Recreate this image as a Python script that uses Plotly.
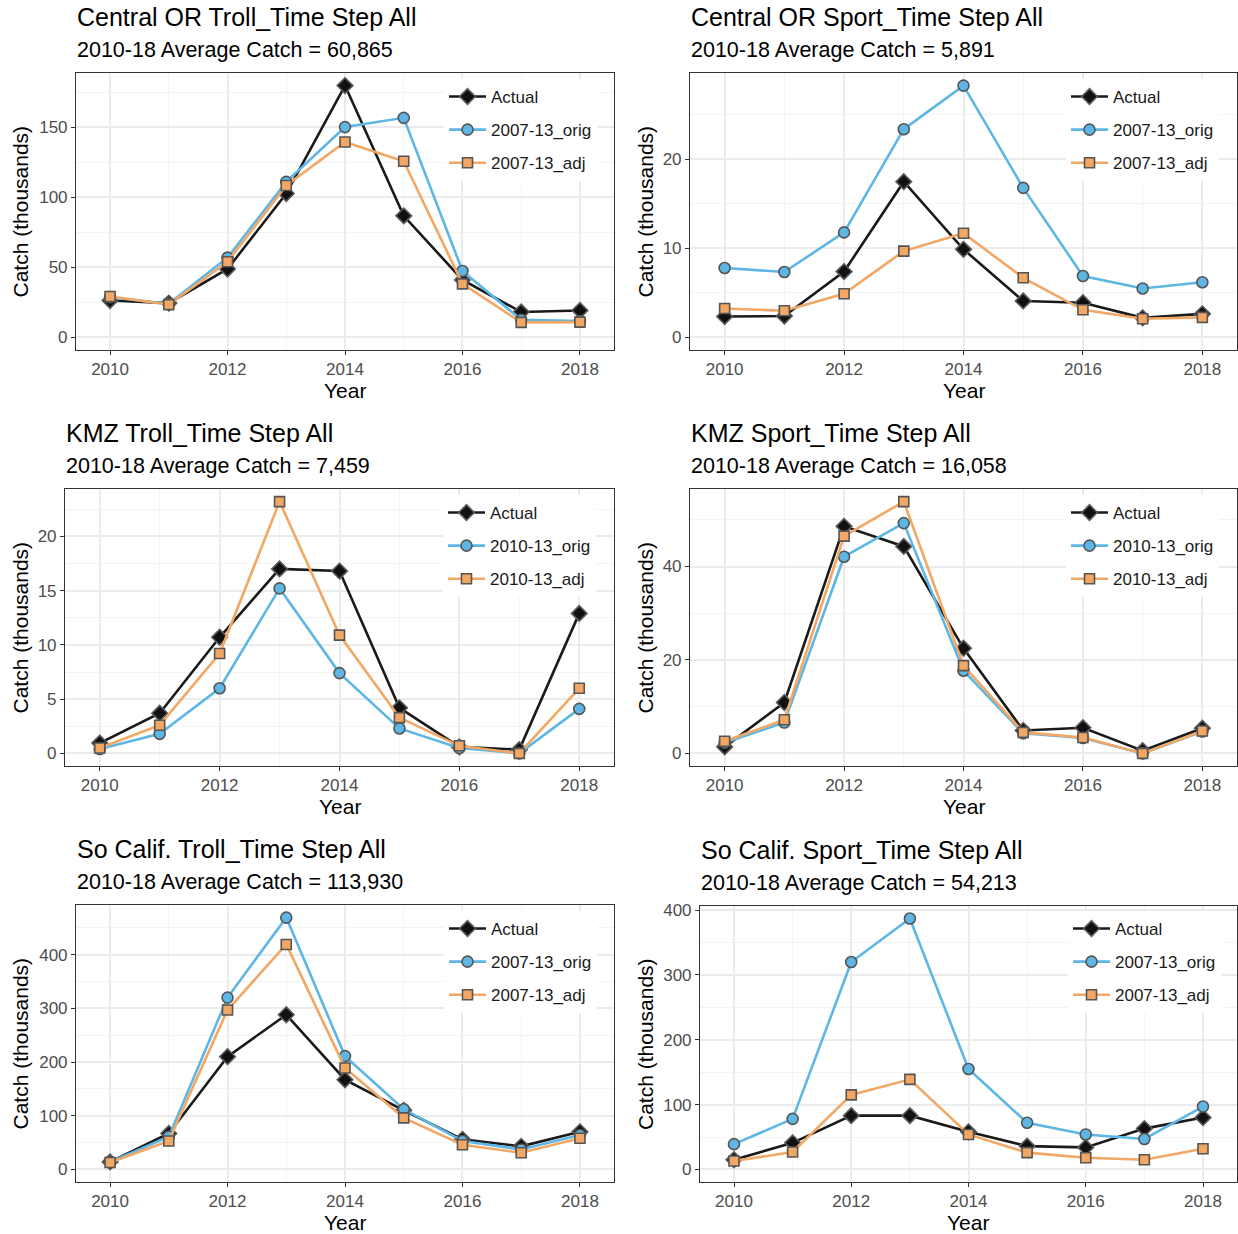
import plotly.graph_objects as go

# ---------------- data ----------------
years = [2010, 2011, 2012, 2013, 2014, 2015, 2016, 2017, 2018]

titles = ["Central OR Troll_Time Step All", "Central OR Sport_Time Step All",
          "KMZ Troll_Time Step All", "KMZ Sport_Time Step All",
          "So Calif. Troll_Time Step All", "So Calif. Sport_Time Step All"]
subtitles = ["2010-18 Average Catch = 60,865", "2010-18 Average Catch = 5,891",
             "2010-18 Average Catch = 7,459", "2010-18 Average Catch = 16,058",
             "2010-18 Average Catch = 113,930", "2010-18 Average Catch = 54,213"]

names_0713 = ["Actual", "2007-13_orig", "2007-13_adj"]
names_1013 = ["Actual", "2010-13_orig", "2010-13_adj"]

cor_troll_actual = [26.3, 24.5, 48.8, 102.6, 179.6, 86.7, 41.0, 18.1, 19.2]
cor_troll_orig = [28.7, 24.0, 56.9, 110.9, 150.0, 156.6, 47.4, 12.6, 11.6]
cor_troll_adj = [29.2, 23.4, 54.0, 108.3, 139.4, 125.6, 38.2, 10.7, 10.9]

cor_sport_actual = [2.35, 2.4, 7.4, 17.5, 9.9, 4.1, 3.9, 2.2, 2.65]
cor_sport_orig = [7.8, 7.35, 11.8, 23.4, 28.3, 16.8, 6.9, 5.5, 6.2]
cor_sport_adj = [3.25, 3.0, 4.9, 9.7, 11.7, 6.7, 3.1, 2.1, 2.25]

kmz_troll_actual = [0.95, 3.7, 10.7, 17.0, 16.8, 4.2, 0.6, 0.35, 12.9]
kmz_troll_orig = [0.4, 1.8, 6.0, 15.2, 7.4, 2.3, 0.5, 0.0, 4.1]
kmz_troll_adj = [0.5, 2.6, 9.2, 23.2, 10.9, 3.3, 0.7, 0.0, 6.0]

kmz_sport_actual = [1.4, 10.9, 48.6, 44.3, 22.5, 4.9, 5.5, 0.6, 5.4]
kmz_sport_orig = [2.3, 6.6, 42.1, 49.3, 17.7, 4.3, 3.3, 0.0, 4.7]
kmz_sport_adj = [2.6, 7.2, 46.5, 53.9, 18.8, 4.5, 3.4, 0.0, 4.8]

sc_troll_actual = [14, 67, 210, 288, 167, 110, 56, 43, 70]
sc_troll_orig = [14, 61, 320, 469, 211, 112, 53, 37, 64]
sc_troll_adj = [13, 53, 297, 419, 189, 96, 46, 31, 58]

sc_sport_actual = [15, 41, 83, 83, 58, 36, 34, 63, 80]
sc_sport_orig = [39, 78, 320, 387, 155, 72, 54, 47, 97]
sc_sport_adj = [13, 27, 115, 139, 54, 26, 18, 15, 32]

panels_data = [
    (names_0713, [cor_troll_actual, cor_troll_orig, cor_troll_adj]),
    (names_0713, [cor_sport_actual, cor_sport_orig, cor_sport_adj]),
    (names_1013, [kmz_troll_actual, kmz_troll_orig, kmz_troll_adj]),
    (names_1013, [kmz_sport_actual, kmz_sport_orig, kmz_sport_adj]),
    (names_0713, [sc_troll_actual, sc_troll_orig, sc_troll_adj]),
    (names_0713, [sc_sport_actual, sc_sport_orig, sc_sport_adj]),
]
y_dticks = [50, 10, 5, 20, 100, 100]

# ---------------- layout / styles ----------------
W, H = 1238, 1234
FONT = "Liberation Sans, Arial, sans-serif"
# plot areas in pixels: (left, right, top, bottom)
boxes = [(76, 614, 73, 350), (690, 1237, 73, 350),
         (65, 614, 489, 766), (690, 1237, 489, 766),
         (76, 614, 905, 1182), (700, 1237, 906, 1182)]
legend_pos = [(444, 79), (1066, 79), (443, 495), (1066, 495), (444, 911), (1068, 911)]

styles = [
    dict(line=dict(color="#1a1a1a", width=2.6),
         marker=dict(symbol="diamond", size=12, color="#111111",
                     line=dict(color="#5a5a5a", width=1.6))),
    dict(line=dict(color="#5DB6E4", width=2.6),
         marker=dict(symbol="circle", size=11, color="#5DB6E4",
                     line=dict(color="#555555", width=1.6))),
    dict(line=dict(color="#F2A765", width=2.6),
         marker=dict(symbol="square", size=10, color="#F2A765",
                     line=dict(color="#555555", width=1.6))),
]

def px_x(p):
    return p / W

def px_y(p):
    return 1 - p / H

fig = go.Figure()
annotations = []
layout_upd = {}

for i, (names, series) in enumerate(panels_data):
    k = "" if i == 0 else str(i + 1)
    xa, ya = "x" + k, "y" + k
    leg = "legend" + k
    for j, (nm, vals) in enumerate(zip(names, series)):
        fig.add_trace(go.Scatter(
            x=years, y=vals, mode="lines+markers", name=nm,
            xaxis=xa, yaxis=ya, legend=leg, legendgroup=f"p{i}_{j}",
            line=styles[j]["line"], marker=styles[j]["marker"],
            hoverinfo="x+y+name"))

    l, r, t, b = boxes[i]
    ymax = max(max(s) for s in series)
    yrange = [-0.05 * ymax, 1.05 * ymax]

    common = dict(showline=True, mirror=True, linecolor="#333333", linewidth=1.1,
                  ticks="outside", ticklen=4, tickcolor="#333333", tickwidth=1.1,
                  tickfont=dict(family=FONT, size=17, color="#4d4d4d"),
                  showgrid=True, gridcolor="#EBEBEB", gridwidth=1.5,
                  zeroline=False, automargin=False)
    layout_upd["xaxis" + k] = dict(
        common, domain=[px_x(l), px_x(r)], anchor=ya,
        range=[2009.42, 2018.58], tick0=2010, dtick=2,
        minor=dict(dtick=1, tick0=2010, showgrid=True, gridcolor="#F3F3F3",
                   gridwidth=1, ticks=""))
    layout_upd["yaxis" + k] = dict(
        common, domain=[px_y(b), px_y(t)], anchor=xa,
        range=yrange, tick0=0, dtick=y_dticks[i],
        minor=dict(dtick=y_dticks[i] / 2, tick0=0, showgrid=True,
                   gridcolor="#F3F3F3", gridwidth=1, ticks=""))

    lx, ly = legend_pos[i]
    layout_upd[leg] = dict(x=px_x(lx), y=px_y(ly), xanchor="left", yanchor="top",
                           xref="paper", yref="paper",
                           bgcolor="white", borderwidth=0, tracegroupgap=8,
                           font=dict(family=FONT, size=17, color="#1a1a1a"),
                           itemwidth=37)

    # titles
    annotations.append(dict(text=titles[i], x=px_x(l - 1), y=px_y(t - 56),
                            xref="paper", yref="paper", xanchor="left", yanchor="middle",
                            showarrow=False,
                            font=dict(family=FONT, size=25, color="#000000")))
    annotations.append(dict(text=subtitles[i], x=px_x(l - 1), y=px_y(t - 23),
                            xref="paper", yref="paper", xanchor="left", yanchor="middle",
                            showarrow=False,
                            font=dict(family=FONT, size=21.5, color="#000000")))
    # axis titles
    annotations.append(dict(text="Year", x=px_x((l + r) / 2), y=px_y(b + 40),
                            xref="paper", yref="paper", xanchor="center", yanchor="middle",
                            showarrow=False,
                            font=dict(family=FONT, size=21, color="#000000")))
    ytitle_x = 20 if l < 400 else 645
    annotations.append(dict(text="Catch (thousands)", x=px_x(ytitle_x), y=px_y((t + b) / 2),
                            xref="paper", yref="paper", xanchor="center", yanchor="middle",
                            textangle=-90, showarrow=False,
                            font=dict(family=FONT, size=21, color="#000000")))

fig.update_layout(
    width=W, height=H, margin=dict(l=0, r=0, t=0, b=0),
    paper_bgcolor="white", plot_bgcolor="white",
    font=dict(family=FONT),
    annotations=annotations, showlegend=True,
    **layout_upd)

fig.write_html("out.html", config={"displayModeBar": False},
               post_script="document.body.style.margin='0';")
